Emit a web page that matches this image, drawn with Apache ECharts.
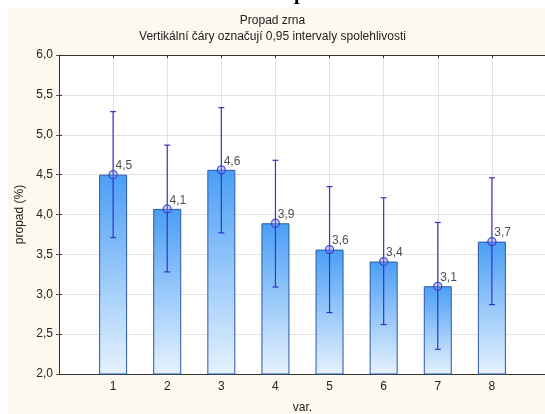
<!DOCTYPE html>
<html>
<head>
<meta charset="utf-8">
<script src="https://cdn.jsdelivr.net/npm/echarts@6/dist/echarts.min.js"></script>
<style>
html,body{margin:0;padding:0;background:#fff;}
#chart{width:545px;height:414px;}
</style>
</head>
<body>
<div id="chart"></div>
<script>
// data
var categories = [1, 2, 3, 4, 5, 6, 7, 8];
var means = [4.50, 4.07, 4.56, 3.89, 3.56, 3.41, 3.10, 3.66];
var lower = [3.71, 3.28, 3.77, 3.09, 2.77, 2.62, 2.31, 2.87];
var upper = [5.29, 4.87, 5.34, 4.68, 4.35, 4.21, 3.90, 4.46];
var yTicks = [2.0, 2.5, 3.0, 3.5, 4.0, 4.5, 5.0, 5.5, 6.0];

var fmt = function (v) { return v.toFixed(1).replace('.', ','); };
var txt = '#222';
var font = 'Liberation Sans';

var barData = [], ciData = [], ptData = [];
for (var i = 0; i < categories.length; i++) {
	barData.push([categories[i], means[i]]);
	ciData.push([categories[i], lower[i], upper[i]]);
	ptData.push([categories[i], means[i]]);
}

var myChart = echarts.init(document.getElementById('chart'));
var option = {
	backgroundColor: '#fff',
	animation: false,
	graphic: [
		{type: 'rect', left: 8, top: 8, shape: {width: 537, height: 406}, style: {fill: '#FDF9EE'}, z: -10},
		// tail of the document heading, cut off above the chart
		{type: 'text', x: 294, y: -6.3, style: {text: 'p', font: 'bold 20px "Liberation Serif"', fill: '#000', verticalAlign: 'middle'}, z: -20},
		{type: 'text', left: 'center', top: 15, style: {text: 'Propad zrna', font: '12px "Liberation Sans"', fill: txt}},
		{type: 'text', left: 'center', top: 31, style: {text: 'Vertikální čáry označují 0,95 intervaly spolehlivosti', font: '12px "Liberation Sans"', fill: txt}}
	],
	grid: {left: 59, right: -1, top: 55, bottom: 40, show: true, backgroundColor: '#fff', borderWidth: 0, outerBoundsMode: 'none'},
	xAxis: [{
		type: 'value', min: 0, max: 9, interval: 1, position: 'bottom',
		name: 'var.', nameLocation: 'middle', nameGap: 28,
		nameTextStyle: {color: txt, fontSize: 12, fontFamily: font},
		axisLine: {show: true, onZero: false, lineStyle: {color: '#333', width: 1}},
		axisTick: {show: true, inside: true, length: 3, lineStyle: {color: '#333'}},
		axisLabel: {color: txt, fontSize: 12, fontFamily: font, margin: 7,
			formatter: function (v) { return categories.indexOf(v) >= 0 ? String(v) : ''; }},
		splitLine: {show: true, lineStyle: {color: '#E2E2E2', width: 1}}
	}, {
		type: 'value', min: 0, max: 9, interval: 1, position: 'top',
		axisLine: {show: true, onZero: false, lineStyle: {color: '#333', width: 1}},
		axisTick: {show: true, inside: true, length: 3, lineStyle: {color: '#333'}},
		axisLabel: {show: false}, splitLine: {show: false}
	}],
	yAxis: [{
		type: 'value', min: yTicks[0], max: yTicks[yTicks.length - 1], interval: 0.5,
		name: 'propad (%)', nameLocation: 'middle', nameGap: 27,
		nameTextStyle: {color: txt, fontSize: 12, fontFamily: font},
		axisLine: {show: true, onZero: false, lineStyle: {color: '#333', width: 1}},
		axisTick: {show: true, inside: true, length: 3, lineStyle: {color: '#333'}},
		axisLabel: {color: txt, fontSize: 12, fontFamily: font, margin: 6, formatter: fmt},
		splitLine: {show: true, lineStyle: {color: '#E2E2E2', width: 1}}
	}, {
		type: 'value', min: yTicks[0], max: yTicks[yTicks.length - 1], interval: 0.5, position: 'right',
		axisLine: {show: false},
		axisTick: {show: true, inside: true, length: 3, lineStyle: {color: '#555'}},
		axisLabel: {show: false}, splitLine: {show: false}
	}],
	series: [{
		type: 'bar',
		data: barData,
		barWidth: 28,
		clip: true,
		itemStyle: {
			color: new echarts.graphic.LinearGradient(0, 0, 0, 1, [
				{offset: 0, color: '#4A9EF5'},
				{offset: 1, color: '#E6F2FE'}
			]),
			borderColor: '#2A58A8',
			borderWidth: 1
		},
		z: 2
	}, {
		type: 'custom',
		data: ciData,
		renderItem: function (params, api) {
			var lo = api.coord([api.value(0), api.value(1)]);
			var hi = api.coord([api.value(0), api.value(2)]);
			var w = 3;
			var st = {stroke: '#3434C8', lineWidth: 1.2};
			return {type: 'group', children: [
				{type: 'line', shape: {x1: lo[0], y1: lo[1], x2: hi[0], y2: hi[1]}, style: st},
				{type: 'line', shape: {x1: lo[0] - w, y1: lo[1], x2: lo[0] + w, y2: lo[1]}, style: st},
				{type: 'line', shape: {x1: hi[0] - w, y1: hi[1], x2: hi[0] + w, y2: hi[1]}, style: st}
			]};
		},
		z: 3
	}, {
		type: 'scatter',
		data: ptData,
		symbol: 'circle',
		symbolSize: 8,
		itemStyle: {color: 'rgba(120,140,240,0.5)', borderColor: '#3434C8', borderWidth: 1.3},
		label: {
			show: true, position: [7, -4], align: 'left', verticalAlign: 'middle',
			color: txt, fontSize: 12, fontFamily: font,
			formatter: function (p) { return fmt(p.value[1]); }
		},
		z: 4
	}]
};
myChart.setOption(option);
</script>
</body>
</html>
